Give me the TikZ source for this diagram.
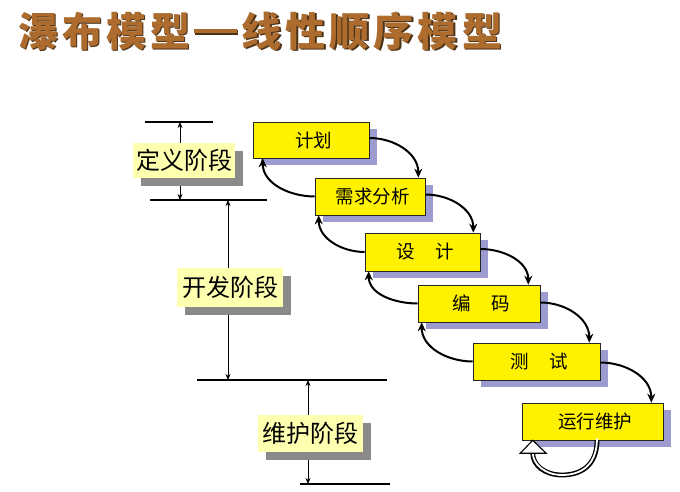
\documentclass[tikz,border=0pt]{standalone}
\usepackage{fontspec}
\newfontfamily\cjk{Noto Sans CJK SC}
\newfontfamily\cjktitle[LetterSpace=10]{Noto Sans CJK SC}
\usetikzlibrary{shadows,arrows.meta}
\definecolor{lav}{HTML}{9C9CD0}
\definecolor{paleyellow}{HTML}{FFFFB0}
\definecolor{shadowgray}{HTML}{8A8A8A}
\definecolor{titlebrown}{HTML}{AD6C2E}
\definecolor{titledark}{HTML}{4A3218}
\newcommand{\titletext}{瀑布模型\hspace{4pt}\rule[13pt]{43pt}{4.5pt}\hspace{5pt}线性顺序模型}
\begin{document}
\begin{tikzpicture}[x=1pt,y=1pt,
  stagebox/.style={draw=black!85, line width=0.6pt, fill=yellow, inner sep=0pt,
    font=\cjk\fontsize{18.5}{18.5}\selectfont,
    drop shadow={shadow xshift=8pt, shadow yshift=-7pt, fill=lav, opacity=1}},
  phase/.style={fill=paleyellow, inner sep=0pt,
    font=\cjk\fontsize{24}{24}\selectfont,
    drop shadow={shadow xshift=8pt, shadow yshift=-8pt, fill=shadowgray, opacity=1}},
  bar/.style={line width=2.6pt},
  dim/.style={line width=0.6pt, -{Stealth[length=6pt,width=5pt]}},
  flow/.style={line width=2pt, -{Stealth[length=9pt,width=8pt]}},
  titlefont/.style={font=\cjktitle\bfseries\fontsize{40}{40}\selectfont, inner sep=0pt}]
\useasboundingbox (0,0) rectangle (680,492);
\fill[white] (0,0) rectangle (680,492);

% title
\node[titlefont, text=titledark] (titleshadow) at (261.5,459.5) {\titletext};
\node[titlefont, text=titlebrown] (title) at (260,461) {\titletext};

% horizontal bars
\coordinate (l1a) at (145,370); \coordinate (l1b) at (213,370);
\coordinate (l2a) at (150,292); \coordinate (l2b) at (267,292);
\coordinate (l3a) at (197,112); \coordinate (l3b) at (387,112);
\coordinate (l4a) at (300,8);   \coordinate (l4b) at (390,8);
\draw[bar] (l1a) -- (l1b);
\draw[bar] (l2a) -- (l2b);
\draw[bar] (l3a) -- (l3b);
\draw[bar] (l4a) -- (l4b);

% phase labels
\node[phase, minimum width=102pt, minimum height=35pt] (p1) at (184,331.5) {定义阶段};
\node[phase, minimum width=106pt, minimum height=39pt] (p2) at (230,204.5) {开发阶段};
\node[phase, minimum width=105pt, minimum height=37pt] (p3) at (310.5,58.5) {维护阶段};

\draw[dim] ([xshift=-4pt]p1.north) -- ([xshift=-4pt]p1.north |- l1a);
\draw[dim] ([xshift=-4pt,yshift=-8pt]p1.south) -- ([xshift=-4pt]p1.south |- l2a);
\draw[dim] ([xshift=-2pt]p2.north) -- ([xshift=-2pt]p2.north |- l2a);
\draw[dim] ([xshift=-2pt,yshift=-8pt]p2.south) -- ([xshift=-2pt]p2.south |- l3a);
\draw[dim] ([xshift=-2.5pt]p3.north) -- ([xshift=-2.5pt]p3.north |- l3a);
\draw[dim] ([xshift=-2.5pt,yshift=-8pt]p3.south) -- ([xshift=-2.5pt]p3.south |- l4a);

% stage boxes
\node[stagebox, minimum width=116pt, minimum height=36pt] (b1) at (311,352) {\hspace*{5pt}计划};
\node[stagebox, minimum width=110pt, minimum height=37pt] (b2) at (370,295.5) {\hspace*{5pt}需求分析};
\node[stagebox, minimum width=115pt, minimum height=38pt] (b3) at (422.5,240) {\hspace*{5pt}设\hspace{1.1em}计};
\node[stagebox, minimum width=122pt, minimum height=37pt] (b4) at (479,188.5) {\hspace*{5pt}编\hspace{1.1em}码};
\node[stagebox, minimum width=127pt, minimum height=37pt] (b5) at (536.5,130.5) {\hspace*{5pt}测\hspace{1.1em}试};
\node[stagebox, minimum width=141pt, minimum height=37pt] (b6) at (592.5,70.5) {\hspace*{5pt}运行维护};

% forward arrows
\draw[flow] ([yshift=2pt]b1.east) to[out=0,in=90] ([xshift=-7pt]b2.north east);
\draw[flow] ([yshift=2pt]b2.east) to[out=0,in=90] ([xshift=-7pt]b3.north east);
\draw[flow] ([yshift=3pt]b3.east) to[out=0,in=90] ([xshift=-12pt]b4.north east);
\draw[flow] ([yshift=1pt]b4.east) to[out=0,in=90] ([xshift=-11pt]b5.north east);
\draw[flow] ([yshift=-1pt]b5.east) to[out=0,in=90] ([xshift=-12pt]b6.north east);

% backward arrows
\draw[flow] (b2.west) to[out=180,in=-90] ([xshift=10pt]b1.south west);
\draw[flow] (b3.west) to[out=180,in=-90] ([xshift=4pt]b2.south west);
\draw[flow] (b4.west) to[out=180,in=-90] ([xshift=4pt]b3.south west);
\draw[flow] (b5.west) to[out=180,in=-90] ([xshift=4pt]b4.south west);

% loop on maintenance
\coordinate (loopstart) at ([xshift=4.5pt]b6.south);
\coordinate (looptip) at ([xshift=11pt]b6.south west);
\coordinate (loopend) at ([yshift=-13pt]looptip);
\draw[line width=4.8pt] (loopstart) .. controls +(0,-26) and +(18,0) .. (562,17) .. controls +(-17,0) and +(0,-12) .. (loopend);
\draw[line width=1.8pt, white] ([yshift=2pt]loopstart) .. controls +(0,-28) and +(18,0) .. (562,17) .. controls +(-17,0) and +(0,-12) .. ([yshift=1pt]loopend);
\draw[line width=1.1pt, fill=white, line join=miter] ([xshift=-12.5pt]loopend) -- ([xshift=13.5pt]loopend) -- (looptip) -- cycle;
\end{tikzpicture}
\end{document}
